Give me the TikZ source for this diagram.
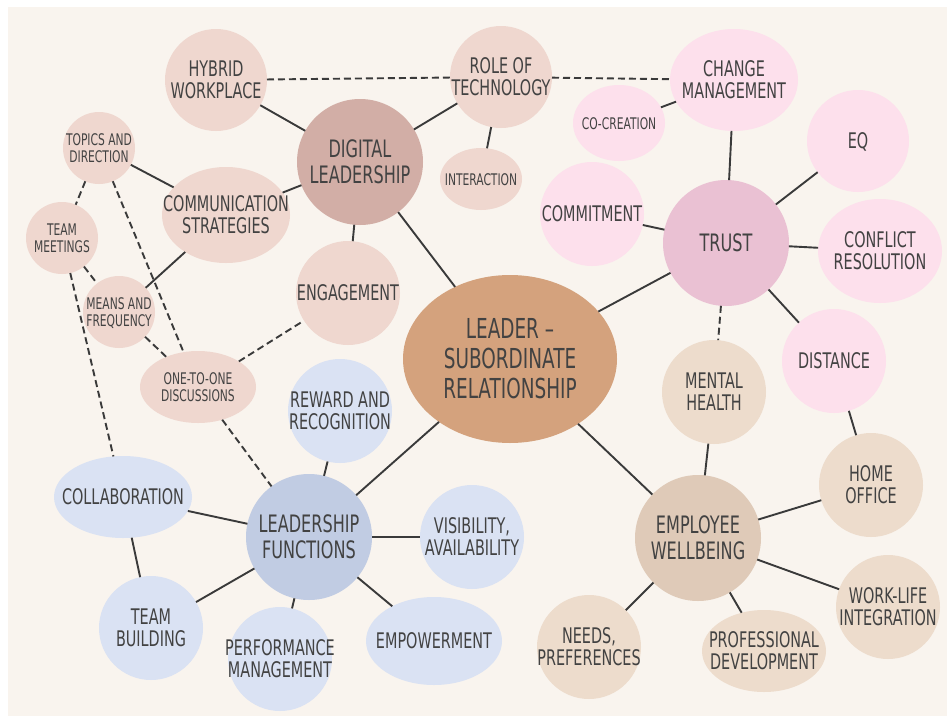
\documentclass[tikz,border=0pt]{standalone}
\usepackage{fontspec}
\setmainfont{DejaVu Sans}[FakeStretch=0.67]
\usepackage{tikz}
\usetikzlibrary{shapes.geometric}

\definecolor{bgc}{HTML}{F9F4EE}
\definecolor{ink}{HTML}{424242}
\definecolor{linec}{HTML}{3A3A3A}
\definecolor{mainc}{HTML}{D4A27D}
\definecolor{digc}{HTML}{D2AEA6}
\definecolor{digl}{HTML}{EFD7CF}
\definecolor{trustc}{HTML}{EAC1D3}
\definecolor{pinkl}{HTML}{FDE0EC}
\definecolor{wellc}{HTML}{DFCAB8}
\definecolor{welll}{HTML}{EDDCCC}
\definecolor{funcc}{HTML}{C1CCE3}
\definecolor{funcl}{HTML}{DAE2F3}

\newcommand{\setsz}[2]{\fontsize{#1}{#2}\selectfont}
% text of zero size, so the bubble keeps its own size
\newcommand{\inbox}[1]{\makebox[0pt]{\raisebox{\dimexpr(\depth-\height)/2-0.14em\relax}[0pt][0pt]{\begin{tabular}{@{}c@{}}#1\end{tabular}}}}

\begin{document}
\begin{tikzpicture}[x=1pt, y=-1pt,
						every node/.style={inner sep=0pt, outer sep=0pt, text=ink, font=\setsz{21.5}{22}},
						every edge/.style={draw, line width=1.9pt, linec},
						ball/.style={circle, fill=#1, minimum size=104pt},
						hub/.style={circle, fill=#1, minimum size=126pt, font=\setsz{24}{25}},
						egg/.style={ellipse, fill=#1},
						tiny/.style={font=\setsz{16}{14.5}},
						gap/.style={dash pattern=on 7pt off 4pt}]
					\fill[white] (0,0) rectangle (950,718);
					\fill[bgc] (8,7) rectangle (947,716);

					% centre
					\node[egg=mainc, minimum width=214pt, minimum height=168pt, font=\setsz{27.5}{30}] (LSR) at (510,359) {\inbox{LEADER --\\SUBORDINATE\\RELATIONSHIP}};

					% digital leadership
					\node[hub=digc] (DL) at (360,162) {\inbox{DIGITAL\\LEADERSHIP}};
					\node[ball=digl, minimum size=102pt] (HW) at (216,80) {\inbox{HYBRID\\WORKPLACE}};
					\node[ball=digl, minimum size=102pt] (RT) at (501,77) {\inbox{ROLE OF\\TECHNOLOGY}};
					\node[egg=digl, tiny, minimum width=82pt, minimum height=62pt] (INT) at (481,179) {\inbox{INTERACTION}};
					\node[egg=digl, minimum width=128pt, minimum height=96pt] (CS) at (226,215) {\inbox{COMMUNICATION\\STRATEGIES}};
					\node[ball=digl] (EN) at (348,293) {\inbox{ENGAGEMENT}};
					\node[ball=digl, tiny, minimum size=72pt] (TD) at (99,148) {\inbox{TOPICS AND\\DIRECTION}};
					\node[ball=digl, tiny, minimum size=72pt] (TM) at (62,238) {\inbox{TEAM\\MEETINGS}};
					\node[ball=digl, tiny, minimum size=72pt] (MF) at (119,312) {\inbox{MEANS AND\\FREQUENCY}};
					\node[egg=digl, tiny, minimum width=116pt, minimum height=72pt] (OO) at (198,387) {\inbox{ONE-TO-ONE\\DISCUSSIONS}};

					% trust
					\node[hub=trustc] (TR) at (726,243) {\inbox{TRUST}};
					\node[egg=pinkl, minimum width=128pt, minimum height=102pt] (CHM) at (734,80) {\inbox{CHANGE\\MANAGEMENT}};
					\node[egg=pinkl, tiny, minimum width=92pt, minimum height=76pt] (CC) at (619,123) {\inbox{CO-CREATION}};
					\node[ball=pinkl, minimum size=102pt] (EQ) at (858,141) {\inbox{EQ}};
					\node[ball=pinkl] (CM) at (592,214) {\inbox{COMMITMENT}};
					\node[egg=pinkl, minimum width=124pt, minimum height=104pt] (CF) at (880,251) {\inbox{CONFLICT\\RESOLUTION}};
					\node[ball=pinkl] (DI) at (834,361) {\inbox{DISTANCE}};

					% employee wellbeing
					\node[hub=wellc] (EW) at (698,538) {\inbox{EMPLOYEE\\WELLBEING}};
					\node[ball=welll] (MH) at (714,392) {\inbox{MENTAL\\HEALTH}};
					\node[ball=welll] (HO) at (871,485) {\inbox{HOME\\OFFICE}};
					\node[ball=welll] (WL) at (888,607) {\inbox{WORK-LIFE\\INTEGRATION}};
					\node[egg=welll, minimum width=124pt, minimum height=82pt] (PD) at (764,651) {\inbox{PROFESSIONAL\\DEVELOPMENT}};
					\node[ball=welll] (NP) at (589,647) {\inbox{NEEDS,\\PREFERENCES}};

					% leadership functions
					\node[hub=funcc] (LF) at (309,537) {\inbox{LEADERSHIP\\FUNCTIONS}};
					\node[ball=funcl] (RR) at (340,411) {\inbox{REWARD AND\\RECOGNITION}};
					\node[ball=funcl] (VA) at (472,537) {\inbox{VISIBILITY,\\AVAILABILITY}};
					\node[egg=funcl, minimum width=136pt, minimum height=88pt] (EP) at (434,641) {\inbox{EMPOWERMENT}};
					\node[ball=funcl] (PM) at (280,659) {\inbox{PERFORMANCE\\MANAGEMENT}};
					\node[ball=funcl] (TB) at (151,628) {\inbox{TEAM\\BUILDING}};
					\node[egg=funcl, minimum width=138pt, minimum height=82pt] (CO) at (123,497) {\inbox{COLLABORATION}};

					\path (HW) edge (DL) (DL) edge (RT) (RT) edge (INT);
					\path (DL) edge (CS) (DL) edge (EN) (DL) edge (LSR);
					\path (TD) edge (CS) (CS) edge (MF);
					\path (CHM) edge (CC) (CHM) edge (TR) (TR) edge (EQ);
					\path (TR) edge (CM) (TR) edge (CF) (TR) edge (LSR);
					\path (TR) edge (DI) (DI) edge (HO);
					\path (LSR) edge (EW) (MH) edge (EW) (HO) edge (EW);
					\path (EW) edge (WL) (EW) edge (PD) (EW) edge (NP);
					\path (LSR) edge (LF) (RR) edge (LF) (LF) edge (CO);
					\path (LF) edge (TB) (LF) edge (VA) (LF) edge (EP);
					\path (LF) edge (PM) (CO) edge (TB);

					\path [gap] (HW) edge (RT) (RT) edge (CHM) (TR) edge (MH);
					\path [gap] (TD) edge (TM) (TD) edge (OO) (TM) edge (MF);
					\path [gap] (TM) edge (CO) (MF) edge (OO);
					\path [gap] (OO) edge (EN) (OO) edge (LF);
				\end{tikzpicture}
\end{document}
